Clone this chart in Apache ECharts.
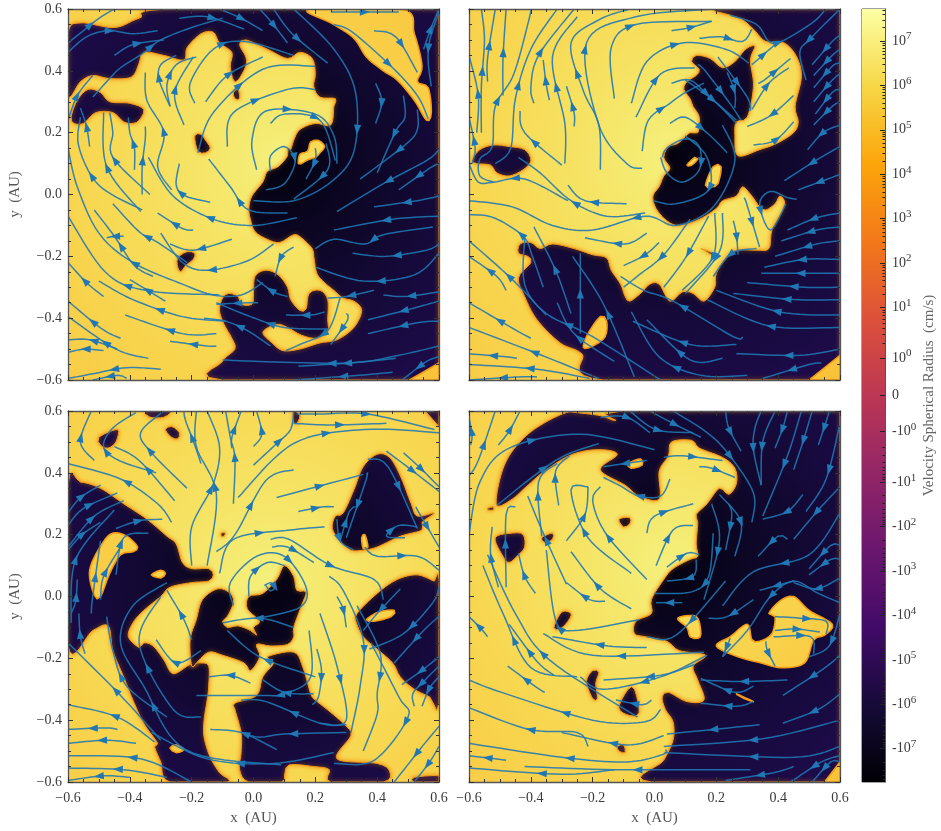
<!DOCTYPE html>
<html><head><meta charset="utf-8">
<style>html,body{margin:0;padding:0;background:#fff}#c{width:941px;height:831px}</style>
<script src="https://cdn.jsdelivr.net/npm/echarts@6/dist/echarts.min.js"></script>
</head><body><div id="c"></div>
<script>
// ---------- DATA (all coordinates in AU) ----------
const panelFrame=[[-.6,-.6],[.6,-.6],[.6,.6],[-.6,.6]];
const tlEye=[.09,.09], trEye=[.06,.12], blEye=[.05,.05], brEye=[.05,.1];

const tlDark=[
[[-.6,.52],[-.56,.555],[-.45,.54],[-.37,.57],[-.26,.6],[.6,.6],[.6,-.6],[-.1,-.6],[-.1,-.54],[-.06,-.5],[-.07,-.465],[-.095,-.42],[-.11,-.375],[-.1,-.335],[-.08,-.32],[-.05,-.33],[-.04,-.355],[-.005,-.355],[0,-.32],[.005,-.265],[.04,-.245],[.08,-.26],[.11,-.3],[.12,-.34],[.15,-.375],[.17,-.37],[.18,-.32],[.215,-.31],[.24,-.34],[.24,-.405],[.24,-.44],[.205,-.465],[.155,-.455],[.11,-.43],[.075,-.42],[.03,-.445],[.06,-.48],[.095,-.505],[.15,-.5],[.215,-.48],[.27,-.47],[.325,-.43],[.35,-.375],[.325,-.345],[.29,-.335],[.26,-.31],[.23,-.285],[.205,-.255],[.195,-.2],[.19,-.175],[.155,-.14],[.13,-.13],[.085,-.155],[.045,-.145],[.005,-.12],[-.01,-.08],[-.015,-.045],[-.005,-.005],[.03,.04],[.045,.075],[.08,.09],[.11,.125],[.11,.15],[.12,.145],[.13,.175],[.15,.21],[.2,.23],[.25,.225],[.26,.285],[.265,.31],[.215,.315],[.195,.35],[.2,.39],[.19,.44],[.15,.46],[.11,.44],[.045,.47],[-.025,.5],[-.045,.485],[-.025,.445],[-.025,.415],[-.05,.37],[-.065,.37],[-.075,.415],[-.07,.46],[-.11,.49],[-.13,.525],[-.17,.52],[-.215,.475],[-.225,.435],[-.29,.45],[-.355,.46],[-.37,.425],[-.395,.38],[-.465,.375],[-.52,.385],[-.56,.365],[-.6,.32]],
[[-.59,.25],[-.57,.305],[-.535,.34],[-.495,.33],[-.465,.3],[-.4,.295],[-.355,.275],[-.37,.24],[-.39,.23],[-.42,.235],[-.455,.265],[-.51,.265],[-.55,.23],[-.58,.23]],
[[-.19,.19],[-.17,.195],[-.155,.175],[-.14,.15],[-.155,.135],[-.18,.14]],
[[-.065,.33],[-.05,.34],[-.045,.31],[-.06,.31]],
[[-.245,-.205],[-.215,-.185],[-.19,-.19],[-.195,-.21],[-.22,-.23],[-.235,-.25],[-.245,-.235]]
];
const tlLight=[
[[.18,.6],[.48,.6],[.52,.52],[.545,.415],[.53,.365],[.565,.345],[.575,.265],[.56,.24],[.52,.305],[.465,.37],[.42,.4],[.365,.445],[.325,.505],[.26,.55]],
[[.505,-.6],[.6,-.545],[.6,-.6]],
[[.145,.1],[.15,.13],[.175,.14],[.185,.17],[.21,.175],[.23,.155],[.215,.135],[.2,.12],[.175,.112],[.155,.1]]
];
const tlFlow=[
[[-.6,.49],[-.55,.53],[-.5,.57],[-.45,.6]],
[[-.6,.46],[-.54,.51],[-.47,.53],[-.39,.52],[-.31,.53]],
[[-.45,.45],[-.39,.485],[-.29,.5]],
[[-.52,.315],[-.47,.37],[-.43,.41],[-.36,.455],[-.3,.5],[-.2,.54],[-.1,.57]],
[[-.24,.57],[-.15,.575],[-.03,.535]],
[[-.11,.6],[-.04,.57],[.03,.53]],
[[.02,.6],[.06,.555],[.11,.49]],
[[.065,.6],[.125,.52],[.24,.425]],
[[.13,.6],[.26,.47],[.33,.33],[.325,.14],[.25,.04],[.13,-.02],[0,-.02]],
[[.25,.59],[.35,.59],[.47,.59]],
[[.26,.55],[.32,.525],[.45,.41],[.53,.32],[.565,.245]],
[[.39,.53],[.46,.51],[.53,.395]],
[[.6,.59],[.57,.5],[.565,.43],[.575,.35]],
[[.55,.47],[.575,.54],[.6,.6]],
[[.395,.36],[.415,.3],[.395,.23]],
[[.485,.32],[.49,.25],[.46,.205],[.4,.07]],
[[.53,.275],[.53,.21],[.49,.16],[.345,.05]],
[[.6,.145],[.56,.11],[.42,.035],[.27,-.055]],
[[.6,.1],[.57,.085],[.47,.015]],
[[.6,-.005],[.53,-.02],[.39,-.04]],
[[.6,-.07],[.45,-.08],[.26,-.115]],
[[.58,-.105],[.42,-.13],[.36,-.16],[.26,-.145],[.2,-.175]],
[[.6,-.16],[.56,-.18],[.43,-.2],[.32,-.19]],
[[.6,-.19],[.52,-.26],[.355,-.28],[.2,-.235]],
[[.6,-.315],[.49,-.33],[.42,-.325]],
[[.6,-.345],[.49,-.375],[.37,-.405]],
[[.6,-.41],[.53,-.415],[.37,-.45]],
[[.6,-.49],[.47,-.52],[.31,-.545],[.02,-.54],[-.1,-.535]],
[[.46,-.53],[.31,-.545],[.145,-.555]],
[[.6,-.525],[.56,-.54],[.48,-.6]],
[[.45,-.575],[.34,-.585],[.13,-.6]],
[[.39,-.31],[.3,-.33],[.24,-.335]],
[[.3,-.385],[.305,-.405],[.25,-.485]],
[[.28,-.335],[.24,-.44],[.15,-.485],[.105,-.505]],
[[.23,-.38],[.185,-.39],[.105,-.39]],
[[.24,-.435],[.1,-.43],[-.01,-.395],[-.12,-.35]],
[[.11,-.33],[.065,-.315],[.01,-.275]],
[[.015,-.35],[-.015,-.35],[-.12,-.355]],
[[.055,-.49],[-.02,-.44],[-.09,-.41],[-.16,-.4]],
[[.13,-.17],[.09,-.2],[.07,-.265]],
[[.065,-.16],[-.02,-.215],[-.15,-.245],[-.23,-.22],[-.3,-.125]],
[[-.07,-.145],[-.195,-.18],[-.27,-.16]],
[[-.215,-.22],[-.31,-.155],[-.37,-.12],[-.455,-.03]],
[[-.195,-.115],[-.23,-.11],[-.31,-.06]],
[[-.14,-.025],[-.22,-.005],[-.25,.03],[-.24,.1]],
[[.14,-.075],[0,-.1],[-.13,-.08],[-.26,-.005],[-.34,.12]],
[[.11,-.06],[-.015,-.05],[-.075,.025],[-.145,.115]],
[[-.285,-.345],[-.4,-.275]],
[[-.485,-.33],[-.54,-.285],[-.6,-.22]],
[[-.325,-.265],[-.385,-.23],[-.45,-.135],[-.515,-.05]],
[[-.42,-.135],[-.45,-.135],[-.475,-.14]],
[[.03,-.285],[-.04,-.325],[-.13,-.325],[-.23,-.29],[-.39,-.22],[-.5,-.125],[-.57,.025],[-.6,.15]],
[[-.11,-.325],[-.35,-.31],[-.48,-.25],[-.6,-.07]],
[[-.12,-.45],[-.23,-.45],[-.415,-.39]],
[[-.12,-.49],[-.15,-.49],[-.27,-.475]],
[[-.09,-.41],[-.23,-.395],[-.39,-.34],[-.5,-.28]],
[[-.43,-.465],[-.49,-.435],[-.6,-.345]],
[[-.34,-.53],[-.445,-.5],[-.6,-.395]],
[[-.485,-.505],[-.545,-.5],[-.6,-.51]],
[[-.3,-.565],[-.41,-.56],[-.52,-.58],[-.6,-.595]],
[[-.41,-.595],[-.44,-.585],[-.52,-.6]],
[[-.44,-.5],[-.53,-.47],[-.6,-.47]],
[[-.53,.155],[-.54,.22],[-.56,.28]],
[[-.6,.24],[-.57,.32],[-.52,.385]],
[[-.365,-.055],[-.475,.09],[-.485,.265]],
[[-.335,0],[-.455,.12],[-.455,.2],[-.465,.265]],
[[-.385,.08],[-.385,.15],[-.4,.2],[-.405,.25]],
[[-.36,0],[-.36,.09],[-.35,.18],[-.35,.22]],
[[-.265,.015],[-.31,.09],[-.29,.2],[-.345,.305],[-.35,.395]],
[[-.36,-.05],[-.5,.03],[-.565,.155],[-.56,.25]],
[[-.27,.285],[-.305,.37],[-.3,.42],[-.25,.45]],
[[-.225,.225],[-.255,.33],[-.195,.445]],
[[-.27,.285],[-.28,.355],[-.25,.42],[-.185,.445]],
[[-.19,.295],[-.205,.36],[-.13,.47],[-.03,.495],[.13,.45]],
[[-.155,.3],[-.085,.385],[.03,.445]],
[[-.18,.135],[-.13,.265],[.03,.405],[.2,.415]],
[[-.085,.155],[-.065,.265],[.11,.34],[.2,.34]],
[[.01,.08],[-.005,.175],[.04,.27],[.2,.26],[.26,.19],[.27,.1]],
[[.055,.23],[.1,.26],[.215,.24],[.265,.11]],
[[.055,.075],[.055,.125],[.1,.155],[.135,.11],[.1,.035],[.04,.015]],
[[.2,.15],[.2,.11],[.17,.05]],
[[.235,.165],[.24,.08],[.13,-.015]]
];

const trDark=[
[[.21,.6],[.6,.6],[.6,-.6],[-.165,-.6],[-.235,-.515],[-.305,-.48],[-.38,-.405],[-.42,-.33],[-.44,-.27],[-.4,-.22],[-.41,-.2],[-.44,-.19],[-.435,-.16],[-.4,-.155],[-.37,-.175],[-.33,-.16],[-.26,-.175],[-.2,-.195],[-.155,-.205],[-.14,-.245],[-.11,-.29],[-.095,-.33],[-.08,-.345],[-.045,-.32],[-.015,-.29],[.015,-.29],[.05,-.345],[.09,-.315],[.125,-.32],[.16,-.345],[.195,-.3],[.2,-.255],[.235,-.2],[.265,-.18],[.33,-.18],[.37,-.175],[.38,-.115],[.415,-.05],[.42,-.02],[.405,-.005],[.39,-.03],[.36,-.05],[.34,-.04],[.315,-.005],[.285,.025],[.265,-.005],[.22,-.02],[.2,-.045],[.145,-.08],[.08,-.1],[.04,-.085],[.005,-.045],[-.005,-.005],[.015,.025],[.03,.06],[.05,.085],[.03,.12],[.045,.155],[.075,.165],[.115,.2],[.14,.2],[.145,.25],[.125,.285],[.115,.31],[.095,.34],[.105,.365],[.135,.385],[.145,.405],[.12,.43],[.135,.45],[.18,.44],[.22,.41],[.26,.43],[.295,.47],[.325,.48],[.31,.435],[.32,.35],[.3,.25],[.265,.235],[.26,.19],[.27,.125],[.34,.145],[.395,.165],[.45,.2],[.465,.235],[.455,.285],[.475,.38],[.46,.445],[.42,.49],[.36,.495],[.32,.535],[.285,.565],[.245,.58]],
[[-.59,.11],[-.565,.145],[-.52,.16],[-.47,.155],[-.42,.145],[-.4,.11],[-.425,.08],[-.47,.06],[-.51,.07],[-.53,.095],[-.575,.1]],
[[.15,-.175],[.19,-.19],[.185,-.195],[.16,-.18]]
];
const trLight=[
[[-.23,-.495],[-.215,-.45],[-.175,-.395],[-.155,-.41],[-.16,-.46],[-.2,-.49]],
[[.165,.03],[.19,.09],[.215,.09],[.205,.035],[.185,.025]],
[[.105,.095],[.13,.12],[.14,.115],[.12,.095]],
[[.5,-.6],[.6,-.52],[.6,-.6]]
];
const trFlow=[
[[-.56,.2],[-.56,.35],[-.55,.5],[-.56,.6]],
[[-.49,.32],[-.49,.44],[-.48,.6]],
[[-.54,.365],[-.54,.44],[-.515,.6]],
[[-.575,.2],[-.57,.32],[-.6,.45]],
[[-.59,.1],[-.58,.15],[-.6,.25]],
[[-.52,.04],[-.565,.06],[-.565,.115],[-.525,.155],[-.515,.285],[-.455,.39],[-.405,.57],[-.4,.6]],
[[-.515,.1],[-.465,.15],[-.45,.31],[-.4,.47],[-.315,.6]],
[[-.28,-.02],[-.42,.05],[-.52,.04],[-.57,.04],[-.6,.1]],
[[-.34,.305],[-.35,.355],[-.36,.435]],
[[-.39,.295],[-.4,.345],[-.375,.45],[-.26,.6]],
[[-.29,.1],[-.29,.23],[-.33,.445],[-.25,.575]],
[[-.26,.22],[-.26,.265],[-.285,.35]],
[[-.175,.08],[-.18,.225],[-.23,.335],[-.27,.49],[-.18,.565],[-.08,.6]],
[[-.3,.095],[-.42,.2],[-.435,.27]],
[[-.04,.085],[-.09,.1],[-.18,.225],[-.22,.49],[-.06,.575],[.19,.6]],
[[-.13,.31],[-.14,.475],[-.06,.55],[.185,.56]],
[[-.075,.295],[-.025,.43],[.09,.49],[.23,.47],[.305,.425]],
[[.055,.53],[.115,.54],[.185,.56]],
[[.145,.505],[.215,.51],[.285,.495],[.315,.535]],
[[-.04,.14],[-.02,.24],[.05,.295],[.1,.33],[.16,.36]],
[[-.06,.25],[.02,.39],[.13,.41]],
[[.055,.36],[.115,.37],[.18,.315],[.265,.24]],
[[.05,.23],[.1,.25],[.175,.195],[.235,.135]],
[[.025,.12],[.04,.15],[.1,.18],[.145,.155],[.145,.08],[.09,.04],[.04,.07],[.02,.12]],
[[.1,.19],[.17,.12],[.175,.015],[.07,-.03],[-.005,-.02]],
[[.22,.225],[.26,.11],[.19,-.04],[.07,-.1],[-.03,-.07],[-.2,-.115],[-.33,-.1],[-.46,-.04],[-.6,-.02]],
[[-.09,-.03],[-.225,-.02],[-.28,.03]],
[[-.03,-.06],[-.155,-.07],[-.27,-.02],[-.37,.07],[-.44,.12]],
[[-.025,-.125],[-.095,-.16],[-.225,-.14]],
[[.015,-.155],[-.03,-.195],[-.1,-.23]],
[[.115,-.08],[.03,-.195],[-.05,-.26],[-.1,-.3]],
[[.175,-.07],[.1,-.205],[.03,-.3]],
[[.195,-.06],[.19,-.2],[.09,-.31]],
[[.22,-.06],[.21,-.185],[.1,-.32]],
[[.255,-.085],[.265,-.13],[.27,-.195]],
[[.29,-.01],[.295,-.02],[.34,-.17]],
[[.33,-.175],[.25,-.19],[.19,-.265]],
[[.46,-.015],[.43,-.01],[.375,.01],[.34,-.03],[.375,-.115],[.425,-.03]],
[[.6,-.06],[.525,-.075],[.43,-.115]],
[[.6,-.105],[.525,-.115],[.41,-.15]],
[[.6,-.15],[.525,-.16],[.39,-.2]],
[[.6,-.21],[.485,-.21],[.355,-.235]],
[[.6,-.255],[.485,-.255],[.345,-.255]],
[[.6,-.3],[.485,-.3],[.3,-.285]],
[[.6,-.34],[.45,-.34],[.255,-.32]],
[[.6,-.39],[.405,-.38],[.2,-.31]],
[[.6,-.43],[.37,-.425],[.17,-.34]],
[[.6,-.5],[.47,-.52],[.265,-.515]],
[[.54,-.545],[.5,-.55],[.35,-.595]],
[[.6,.155],[.53,.115],[.42,.045]],
[[.6,.065],[.56,.05],[.465,.015]],
[[.6,.225],[.545,.2],[.495,.145]],
[[.6,.3],[.575,.285],[.515,.225]],
[[.6,.34],[.575,.33],[.52,.26]],
[[.6,.39],[.575,.37],[.515,.3]],
[[.6,.425],[.575,.415],[.515,.345]],
[[.6,.47],[.575,.45],[.515,.385]],
[[.6,.515],[.575,.495],[.51,.42]],
[[.6,.6],[.505,.505],[.47,.46],[.49,.37]],
[[.245,.58],[.33,.55],[.37,.495],[.41,.495],[.51,.555],[.555,.6]],
[[.335,.36],[.355,.37],[.44,.44]],
[[.315,.275],[.37,.36],[.435,.41]],
[[.45,.32],[.375,.255],[.3,.22]],
[[.315,.42],[.39,.485]],
[[.32,.16],[.39,.175],[.45,.235]],
[[.235,.395],[.26,.33],[.26,.28]],
[[.205,.445],[.3,.315],[.31,.27]],
[[.14,.42],[.16,.405],[.24,.3],[.28,.24]],
[[.1,.37],[.19,.305],[.265,.23]],
[[-.27,-.385],[-.32,-.245],[-.39,-.105]],
[[-.24,-.45],[-.24,-.265],[-.24,-.19]],
[[-.065,-.59],[-.165,-.355],[-.265,-.2]],
[[-.13,-.54],[-.26,-.45],[-.315,-.35]],
[[.02,-.6],[-.2,-.46],[-.35,-.385],[-.42,-.29],[-.42,-.14]],
[[-.36,-.3],[-.395,-.2],[-.425,-.135],[-.52,-.075],[-.6,-.065]],
[[-.48,-.31],[-.51,-.265],[-.6,-.2]],
[[-.35,-.39],[-.465,-.27],[-.6,-.15]],
[[-.4,-.465],[-.455,-.435],[-.6,-.35]],
[[-.18,-.595],[-.365,-.52],[-.6,-.43]],
[[-.445,-.53],[-.48,-.525],[-.6,-.515]],
[[-.21,-.595],[-.38,-.565],[-.6,-.55]],
[[-.38,-.59],[-.44,-.59],[-.6,-.6]],
[[.22,-.53],[.115,-.535],[-.025,-.405]],
[[.265,-.485],[.115,-.485],[-.07,-.41]],
[[.285,-.46],[.255,-.46],[.06,-.345],[-.035,-.31],[-.11,-.265]],
[[.3,-.585],[.15,-.585],[.015,-.525],[-.075,-.38]]
];

const blDark=[
[[-.6,.36],[-.56,.37],[-.495,.35],[-.42,.3],[-.345,.25],[-.28,.195],[-.25,.17],[-.23,.11],[-.2,.09],[-.145,.09],[-.13,.07],[-.145,.05],[-.2,.045],[-.27,.03],[-.3,0],[-.355,-.045],[-.39,-.085],[-.405,-.13],[-.37,-.165],[-.355,-.15],[-.325,-.16],[-.29,-.205],[-.26,-.25],[-.205,-.22],[-.17,-.215],[-.145,-.225],[-.145,-.29],[-.15,-.335],[-.16,-.4],[-.16,-.455],[-.14,-.52],[-.11,-.57],[-.085,-.6],[-.27,-.6],[-.3,-.535],[-.32,-.485],[-.31,-.475],[-.355,-.41],[-.39,-.335],[-.42,-.26],[-.455,-.175],[-.47,-.095],[-.52,-.11],[-.6,-.16]],
[[-.165,-.01],[-.115,.025],[-.075,.01],[-.065,-.02],[-.085,-.065],[-.1,-.08],[-.085,-.1],[-.05,-.095],[-.01,-.11],[.01,-.125],[0,-.1],[.02,-.08],[-.02,-.04],[-.015,0],[.03,.01],[.075,.055],[.1,.1],[.13,.065],[.14,.02],[.17,.015],[.155,-.03],[.13,-.1],[.13,-.13],[.11,-.155],[.055,-.16],[.01,-.155],[.02,-.195],[-.01,-.24],[-.03,-.215],[-.1,-.19],[-.145,-.18],[-.185,-.215],[-.2,-.225],[-.205,-.14],[-.185,-.075]],
[[.045,-.195],[.13,-.18],[.16,-.23],[.185,-.315],[.2,-.335],[.25,-.375],[.3,-.42],[.315,-.45],[.27,-.525],[.4,-.54],[.44,-.565],[.42,-.6],[.25,-.6],[.245,-.56],[.195,-.55],[.115,-.545],[.1,-.58],[.09,-.6],[-.015,-.6],[-.045,-.56],[-.04,-.505],[-.04,-.44],[-.06,-.365],[-.06,-.345],[.01,-.32],[.03,-.26],[.065,-.215]],
[[.4,.46],[.44,.45],[.475,.39],[.51,.3],[.53,.26],[.585,.27],[.545,.24],[.545,.215],[.475,.195],[.4,.16],[.355,.15],[.315,.15],[.28,.18],[.255,.22],[.265,.26],[.29,.27],[.325,.345],[.355,.42]],
[[.335,-.055],[.4,.01],[.465,.055],[.53,.07],[.585,.05],[.6,.055],[.6,-.345],[.57,-.325],[.52,-.3],[.475,-.26],[.45,-.215],[.4,-.17],[.355,-.13],[.333,-.085]],
[[-.5,.515],[-.44,.54],[-.445,.5],[-.47,.48],[-.495,.49]],
[[-.285,.54],[-.265,.55],[-.24,.53],[-.245,.51],[-.265,.515]],
[[-.35,.6],[-.27,.6],[-.29,.58],[-.335,.58]],
[[.13,.6],[.15,.585],[.14,.56],[.13,.56]],
[[.555,.6],[.6,.6],[.6,.55]],
[[-.105,.205],[-.09,.205],[-.095,.195],[-.105,.195]],
[[.52,-.585],[.6,-.58],[.6,-.6],[.52,-.6]]
];
const blLight=[
[[-.53,.085],[-.49,.17],[-.455,.205],[-.41,.195],[-.375,.16],[-.39,.145],[-.43,.135],[-.465,.075],[-.495,0],[-.515,.005]],
[[-.33,.07],[-.3,.085],[-.285,.075],[-.3,.06]],
[[-.27,-.49],[-.25,-.48],[-.225,-.495],[-.25,-.505]],
[[.35,.19],[.36,.2],[.37,.16],[.355,.155]],
[[.365,-.075],[.405,-.05],[.455,-.045],[.445,-.065],[.39,-.08]]
];
const blFlow=[
[[-.515,.44],[-.56,.5],[-.525,.6]],
[[-.315,.4],[-.435,.44],[-.485,.485],[-.455,.545],[-.38,.595]],
[[-.215,.35],[-.33,.465],[-.365,.53],[-.29,.6]],
[[-.17,.43],[-.19,.49],[-.22,.57],[-.225,.6]],
[[-.265,.24],[-.31,.3],[-.43,.38],[-.6,.43]],
[[-.255,.31],[-.37,.44],[-.45,.485]],
[[-.15,.1],[-.12,.33],[-.185,.485],[-.185,.6]],
[[-.2,.1],[-.2,.225],[-.13,.365],[-.11,.485],[-.15,.6]],
[[-.065,.3],[-.06,.445],[-.075,.515],[-.09,.6]],
[[-.07,.48],[-.07,.515],[-.04,.6]],
[[0,.485],[.027,.525],[.01,.6]],
[[0,.425],[.075,.495],[.12,.54],[.13,.6]],
[[-.12,.145],[-.06,.2],[.04,.375],[.13,.41]],
[[-.05,.32],[.13,.495],[.36,.54],[.6,.53]],
[[.075,.32],[.355,.395]],
[[.145,.275],[.225,.29],[.26,.29]],
[[-.11,.075],[-.065,.185],[.12,.215],[.23,.225]],
[[.13,.56],[.25,.555],[.43,.56]],
[[.14,.59],[.22,.59],[.37,.59],[.585,.54]],
[[.37,.445],[.435,.42],[.53,.22]],
[[.485,.465],[.54,.415],[.6,.355]],
[[.43,.47],[.51,.41],[.6,.34]],
[[.365,.395],[.365,.38],[.3,.19]],
[[.28,.18],[.31,.275],[.33,.29]],
[[.27,.25],[.28,.18],[.325,.15]],
[[.525,.29],[.53,.28],[.6,.16]],
[[.49,.19],[.43,.195],[.47,.23],[.53,.225]],
[[.36,.16],[.4,.13],[.53,.13],[.6,.085]],
[[.06,.16],[.11,.16],[.195,.11]],
[[.055,.185],[.115,.185],[.25,.1],[.39,.055],[.42,-.01]],
[[-.015,0],[-.01,.065],[.045,.11],[.1,.1]],
[[-.065,-.03],[-.075,.045],[.01,.13],[.1,.13],[.17,.03],[.15,-.035],[.02,-.07]],
[[.035,.035],[.055,.045],[.07,.03],[.055,.018],[.04,.035]],
[[.205,-.17],[.22,-.24],[.21,-.325],[.19,-.35]],
[[.18,-.11],[.185,-.26],[.1,-.315],[.02,-.32],[-.185,-.32]],
[[.245,.065],[.29,.02],[.355,-.14],[.345,-.29],[.315,-.44]],
[[.27,0],[.29,-.04],[.3,-.1]],
[[.215,-.055],[.27,-.225],[.3,-.4],[.215,-.41]],
[[.335,-.03],[.41,-.185],[.4,-.315],[.4,-.38],[.355,-.5]],
[[.38,-.15],[.47,-.325],[.5,-.39],[.39,-.53],[.26,-.54]],
[[.6,.03],[.58,-.02],[.485,-.12],[.375,-.17]],
[[.6,-.065],[.55,-.11],[.455,-.215]],
[[.6,-.195],[.55,-.235],[.48,-.285]],
[[.6,-.225],[.55,-.275],[.515,-.315],[.52,-.355]],
[[.6,-.26],[.57,-.295],[.545,-.355]],
[[.475,.025],[.4,-.055],[.355,-.11]],
[[.6,-.42],[.55,-.48],[.455,-.6]],
[[.6,-.485],[.57,-.535],[.52,-.6]],
[[-.6,.27],[-.56,.32],[-.495,.36]],
[[-.6,.23],[-.55,.285],[-.44,.335]],
[[-.6,.16],[-.515,.26],[-.42,.31]],
[[-.6,.15],[-.555,.2],[-.495,.24]],
[[-.445,.22],[-.37,.245],[-.295,.25]],
[[-.445,.07],[-.42,.19],[-.34,.205]],
[[-.59,-.085],[-.575,.12],[-.45,.28]],
[[-.495,-.01],[-.485,.065],[-.43,.16]],
[[-.525,-.055],[-.52,0],[-.495,.18]],
[[-.59,-.055],[-.575,-.015],[-.57,.055]],
[[-.545,-.185],[-.56,-.13],[-.565,-.055]],
[[-.28,-.39],[-.41,-.29],[-.455,-.175],[-.475,-.065]],
[[.09,-.545],[-.22,-.495],[-.355,-.29],[-.43,-.15],[-.39,-.03],[-.28,.045]],
[[-.17,-.39],[-.26,-.365],[-.37,-.15],[-.3,0]],
[[-.3,-.465],[-.43,-.32],[-.6,-.15]],
[[.26,-.505],[.065,-.54],[-.15,-.525],[-.33,-.44]],
[[-.32,-.47],[-.44,-.39],[-.6,-.35]],
[[-.44,-.43],[-.48,-.425],[-.6,-.43]],
[[-.38,-.475],[-.475,-.465],[-.6,-.475]],
[[-.2,-.6],[-.365,-.525],[-.6,-.515]],
[[-.28,-.585],[-.42,-.56],[-.6,-.555]],
[[-.4,-.585],[-.485,-.58],[-.6,-.595]],
[[.075,-.495],[-.04,-.44],[-.14,-.43]],
[[.3,-.44],[.1,-.445],[.02,-.455],[-.04,-.44]],
[[.3,-.415],[.215,-.41],[.04,-.34],[-.04,-.335]],
[[.195,-.315],[.1,-.31],[.03,-.27]],
[[.2,-.26],[.02,-.195],[-.085,-.11]],
[[.13,-.1],[.02,-.07],[-.1,-.085]],
[[-.01,-.28],[-.075,-.255],[-.145,-.26]],
[[-.2,-.14],[-.225,-.075],[-.28,.02]],
[[-.17,-.175],[-.25,-.215],[-.315,-.14]]
];

const brDark=[
[[-.105,.6],[.6,.6],[.6,-.6],[-.01,-.6],[.03,-.53],[.06,-.465],[.06,-.405],[.035,-.365],[.025,-.325],[.045,-.31],[.105,-.34],[.16,-.335],[.14,-.27],[.125,-.225],[.165,-.19],[.08,-.175],[.04,-.145],[-.03,-.13],[-.065,-.12],[-.06,-.08],[-.01,-.055],[-.01,-.01],[.03,.055],[.06,.09],[.115,.12],[.14,.13],[.135,.17],[.14,.24],[.135,.265],[.17,.3],[.21,.35],[.24,.33],[.265,.365],[.26,.415],[.22,.45],[.145,.48],[.12,.505],[.055,.5],[.045,.455],[.015,.405],[.015,.315],[-.05,.325],[-.095,.36],[-.175,.41],[-.12,.46],[-.18,.475],[-.265,.46],[-.35,.41],[-.415,.355],[-.46,.315],[-.51,.295],[-.5,.38],[-.47,.455],[-.415,.52],[-.35,.565],[-.285,.595],[-.255,.595],[-.175,.585],[-.125,.57]],
[[-.515,.19],[-.46,.205],[-.425,.2],[-.42,.16],[-.44,.135],[-.47,.11],[-.49,.13]],
[[-.365,.19],[-.33,.205],[-.33,.185],[-.355,.175]],
[[-.115,.25],[-.08,.255],[-.08,.235],[-.1,.225]],
[[-.54,.285],[-.52,.29],[-.52,.28],[-.54,.28]],
[[-.325,-.1],[-.3,-.05],[-.27,-.055],[-.28,-.08],[-.305,-.105]],
[[-.22,-.275],[-.2,-.24],[-.18,-.245],[-.19,-.28],[-.185,-.33],[-.2,-.33]],
[[-.115,-.36],[-.085,-.3],[-.065,-.3],[-.05,-.375],[-.08,-.385]],
[[-.12,-.485],[-.1,-.48],[-.095,-.505],[-.115,-.5]]
];
const brLight=[
[[.37,-.055],[.405,-.015],[.45,0],[.5,-.045],[.575,-.09],[.55,-.125],[.515,-.14],[.485,-.215],[.41,-.23],[.345,-.215],[.27,-.195],[.2,-.16],[.245,-.13],[.3,-.09],[.315,-.14],[.34,-.145],[.38,-.12],[.39,-.065]],
[[.075,-.07],[.135,-.065],[.15,-.12],[.14,-.135],[.115,-.13],[.105,-.1]],
[[.265,-.315],[.32,-.34],[.29,-.33]],
[[-.085,.43],[-.045,.445],[-.04,.425],[-.075,.415]],
[[.55,-.6],[.6,-.535],[.6,-.6]]
];
const brFlow=[
[[-.595,.49],[-.59,.52],[-.6,.58]],
[[-.6,.39],[-.57,.44],[-.515,.6]],
[[-.505,.49],[-.47,.535],[-.435,.6]],
[[-.6,.2],[-.565,.37],[-.47,.48],[-.24,.525],[0,.475]],
[[-.51,.295],[-.32,.44],[-.18,.495]],
[[-.175,.58],[-.09,.58],[-.015,.53]],
[[-.08,.6],[.005,.54],[.125,.53]],
[[.06,.6],[.17,.53],[.24,.46],[.32,.335],[.315,.24]],
[[-.015,.6],[.06,.56],[.15,.515]],
[[.23,.6],[.24,.545],[.28,.47]],
[[.345,.6],[.325,.545],[.32,.475],[.345,.36]],
[[.39,.6],[.35,.5],[.345,.36]],
[[.43,.6],[.415,.545],[.39,.48]],
[[.475,.6],[.43,.455],[.35,.26]],
[[.51,.6],[.48,.5],[.45,.41]],
[[.565,.6],[.555,.565],[.53,.49]],
[[.6,.56],[.555,.38],[.49,.275]],
[[.6,.355],[.53,.28],[.45,.185]],
[[.48,.33],[.43,.275],[.35,.25]],
[[.43,.185],[.4,.195],[.335,.13]],
[[.6,.27],[.5,.135],[.32,.08],[.22,-.03]],
[[.6,.165],[.57,.165],[.5,.09]],
[[.6,.12],[.57,.12],[.5,.07]],
[[.6,.06],[.525,.025],[.45,.045]],
[[.45,.05],[.34,.02]],
[[.24,.3],[.25,.26],[.23,.15]],
[[.21,.33],[.28,.24],[.26,.13]],
[[.185,.3],[.21,.18],[.16,-.01]],
[[.6,-.02],[.53,.01],[.45,.05],[.375,0],[.3,-.11],[.22,-.195]],
[[.39,-.065],[.47,-.07],[.555,-.08],[.555,-.12]],
[[.39,-.11],[.455,-.105],[.535,-.115]],
[[.385,-.13],[.4,-.13],[.505,-.13],[.515,-.185]],
[[.36,-.145],[.365,-.175],[.39,-.225]],
[[.245,-.135],[.22,-.195]],
[[.6,-.055],[.565,-.16],[.5,-.195]],
[[.6,-.19],[.545,-.235],[.415,-.32]],
[[.6,-.315],[.53,-.365],[.415,-.41]],
[[.6,-.4],[.35,-.46],[.03,-.485]],
[[.34,-.415],[.19,-.43],[.04,-.445]],
[[.6,-.485],[.45,-.52],[.035,-.505]],
[[.6,-.515],[.54,-.535],[.44,-.6]],
[[.6,-.535],[.57,-.535],[.51,-.6]],
[[.31,-.56],[-.13,-.56],[-.42,-.55]],
[[.45,-.55],[.385,-.57],[.23,-.595]],
[[.43,-.27],[.28,-.275],[.15,-.27]],
[[.32,-.29],[.26,-.31],[.15,-.265]],
[[.32,-.34],[.265,-.355],[.15,-.345]],
[[.13,-.22],[.02,-.255],[-.165,-.27]],
[[.17,-.19],[.02,-.26],[-.165,-.3],[-.24,-.26]],
[[-.215,-.485],[-.25,-.44],[-.405,-.43],[-.6,-.36]],
[[.02,-.365],[-.03,-.405],[-.2,-.4],[-.495,-.31],[-.6,-.27]],
[[-.01,-.335],[-.04,-.35],[-.125,-.335]],
[[.03,-.45],[-.09,-.48],[-.3,-.44]],
[[.035,-.495],[.03,-.51],[-.09,-.535],[-.3,-.52],[-.6,-.475]],
[[-.48,-.53],[-.515,-.525],[-.6,-.515]],
[[-.13,-.56],[-.3,-.575],[-.6,-.555]],
[[-.355,-.31],[-.38,-.295],[-.475,-.225]],
[[-.325,-.255],[-.38,-.21],[-.47,-.09]],
[[-.25,-.26],[-.4,-.23],[-.49,-.055],[-.555,.1]],
[[-.055,-.39],[-.34,-.205],[-.45,-.055],[-.54,.135]],
[[-.54,-.13],[-.56,-.105],[-.6,-.065]],
[[-.385,.01],[-.42,.065],[-.44,.14]],
[[-.025,-.165],[-.15,-.16],[-.33,-.13]],
[[-.05,-.075],[-.26,-.11],[-.32,-.075],[-.35,.15]],
[[.16,-.18],[-.2,-.19],[-.36,-.12]],
[[-.075,-.04],[-.175,.025],[-.27,.145]],
[[-.16,-.015],[-.21,-.01],[-.285,.045]],
[[-.075,.075],[-.215,.19],[-.27,.345],[-.215,.355]],
[[-.025,.055],[-.155,.2],[-.2,.31],[-.175,.355]],
[[-.285,.18],[-.225,.265],[-.215,.355]],
[[-.31,.295],[-.32,.405],[-.275,.455]],
[[-.365,.195],[-.375,.37],[-.315,.43]],
[[-.285,.04],[-.36,.205],[-.41,.325]],
[[-.505,.03],[-.53,.135],[-.525,.225]],
[[-.48,.03],[-.48,.265],[-.45,.29]],
[[-.025,.205],[0,.26],[.125,.3]],
[[.005,.1],[.06,.215],[.125,.23]],
[[.04,.095],[.105,.14],[.145,.135]],
[[.135,.12],[.125,.065],[.04,.05]],
[[.19,.205],[.175,.065],[.12,.015],[0,.01]],
[[.32,-.01],[.235,-.065],[.175,-.07]],
[[.09,-.02],[.005,-.02]],
[[.23,.05],[.07,-.125],[-.025,-.13]],
[[-.025,.44],[-.165,.42]],
[[.05,.38],[.02,.325],[-.05,.325],[-.115,.36],[-.165,.385]],
[[.03,.45],[.09,.455],[.22,.44]],
[[.145,.42],[.185,.415],[.26,.385]]
];

// colour bar
const infernoStops=['#000004','#160b39','#420a68','#6a176e','#932667','#bc3754','#dd513a','#f37819','#fca50a','#f6d746','#fcffa4'];
const cbarDecades=[7,6,5,4,3,2,1,0];
const cbarRange=[-8.72,8.69];

// ---------- RENDER ----------
const SERIF='"Liberation Serif",serif';
const TXT='#3a3a3a', FRAME='#555', LINE='#1f77b4';
const layout=[{left:68,top:9},{left:469,top:9},{left:68,top:411},{left:469,top:411}];
const SIZE=371;
const panels=[
 {dark:tlDark,light:tlLight,flow:tlFlow,eye:tlEye},
 {dark:trDark,light:trLight,flow:trFlow,eye:trEye},
 {dark:blDark,light:blLight,flow:blFlow,eye:blEye},
 {dark:brDark,light:brLight,flow:brFlow,eye:brEye}
];
const G=echarts.graphic;
function radial(c,r,stops){return new G.RadialGradient(c[0],c[1],r,stops.map(s=>({offset:s[0],color:s[1]})),true);}
const YEL=[[0,'#f4f07c'],[.3,'#f6e262'],[.6,'#f8d64f'],[1,'#f9c843']];
const DRK=[[0,'#040210'],[.25,'#0e0728'],[.5,'#170a3e'],[1,'#260d58']];
const LGT=[[0,'#f7e05e'],[.5,'#f9cf47'],[1,'#fabf35']];

function spline(pts,closed,isEdge){
 const n=pts.length,out=[];const m=closed?n:n-1;
 const g=i=>closed?pts[(i+n)%n]:pts[Math.max(0,Math.min(n-1,i))];
 for(let i=0;i<m;i++){
  const p0=g(i-1),p1=g(i),p2=g(i+1),p3=g(i+2);
  if(isEdge&&isEdge[i]&&isEdge[(i+1)%n]){out.push(p1);continue;}
  const d=Math.hypot(p2[0]-p1[0],p2[1]-p1[1]);
  const k=Math.max(1,Math.min(10,Math.ceil(d/4)));
  for(let j=0;j<k;j++){
   const t=j/k,t2=t*t,t3=t2*t;
   out.push([0,1].map(a=>.5*(2*p1[a]+(p2[a]-p0[a])*t+(2*p0[a]-5*p1[a]+4*p2[a]-p3[a])*t2+(3*p1[a]-p0[a]-3*p2[a]+p3[a])*t3)));
  }
 }
 if(!closed)out.push(pts[n-1]);
 return out;
}
function regionRender(list){
 return function(params,api){
  const it=list[params.dataIndex];
  const pts=it.poly.map(p=>api.coord(p));
  const edge=it.poly.map(p=>Math.abs(p[0])>=.6||Math.abs(p[1])>=.6);
  const eye=api.coord(it.eye);
  if(it.kind==='base')return{type:'polygon',silent:true,shape:{points:pts},style:{fill:radial(eye,340,YEL)}};
  const sm=spline(pts,true,edge);
  if(it.kind==='dark')return{type:'polygon',silent:true,shape:{points:sm},style:{fill:radial(eye,360,DRK),stroke:'#f39a1a',lineWidth:1,shadowBlur:4,shadowColor:'#f28a0c',lineJoin:'round'}};
  return{type:'polygon',silent:true,shape:{points:sm},style:{fill:radial(eye,300,LGT),stroke:'#f59a14',lineWidth:1.6,lineJoin:'round'}};
 };
}
function flowRender(flow){
 return function(params,api){
  const pts=spline(flow[params.dataIndex].map(p=>api.coord(p)),false);
  let total=0;const seg=[];
  for(let i=1;i<pts.length;i++){const d=Math.hypot(pts[i][0]-pts[i-1][0],pts[i][1]-pts[i-1][1]);seg.push(d);total+=d;}
  let run=0,ax=pts[0][0],ay=pts[0][1],ux=1,uy=0;
  for(let i=0;i<seg.length;i++){
   if(run+seg[i]>=total/2&&seg[i]>0){const f=(total/2-run)/seg[i];
    ax=pts[i][0]+f*(pts[i+1][0]-pts[i][0]);ay=pts[i][1]+f*(pts[i+1][1]-pts[i][1]);
    ux=(pts[i+1][0]-pts[i][0])/seg[i];uy=(pts[i+1][1]-pts[i][1])/seg[i];break;}
   run+=seg[i];
  }
  const L=5,W=3.6;
  return{type:'group',silent:true,children:[
   {type:'polyline',shape:{points:pts},style:{stroke:LINE,lineWidth:1.5,fill:null,opacity:.88,lineJoin:'round'}},
   {type:'polygon',shape:{points:[[ax+ux*L,ay+uy*L],[ax-ux*L-uy*W,ay-uy*L+ux*W],[ax-ux*L+uy*W,ay-uy*L-ux*W]]},style:{fill:LINE}}
  ]};
 };
}
const fmt=v=>{const s=(+v).toFixed(1);return v<0?'\u2212'+s.slice(1):s;};
const xAxes=[],yAxes=[],grids=[],series=[];
function symPos(v){const a=Math.abs(v);let t;if(a<1)t=.83*a;else if(a<10)t=.83+1.13*Math.log10(a);else t=Math.log10(a)+.97;return v<0?-t:t;}
panels.forEach((p,i)=>{
 grids.push({left:layout[i].left,top:layout[i].top,width:SIZE,height:SIZE});
 const bottomRow=i>=2,leftCol=i%2===0;
 const base={type:'value',min:-.6,max:.6,interval:.2,gridIndex:i,z:10,splitLine:{show:false},
  axisLine:{show:true,onZero:false,lineStyle:{color:FRAME,width:1.3}},
  axisTick:{show:true,inside:true,length:5,lineStyle:{color:'#333',width:1}},
  minorTick:{show:true,splitNumber:4,length:3,lineStyle:{color:'#333',width:1}},
  minorSplitLine:{show:false}};
 const lbl={fontFamily:SERIF,fontSize:14,color:TXT,formatter:fmt,showMinLabel:true,showMaxLabel:true,hideOverlap:false};
 const nm={nameLocation:'middle',nameTextStyle:{fontFamily:SERIF,fontSize:15,color:'#555'}};
 xAxes.push(Object.assign({},base,{position:'bottom',axisLabel:Object.assign({show:bottomRow,margin:9},lbl)},bottomRow?Object.assign({name:'x  (AU)',nameGap:29},nm):{}));
 xAxes.push(Object.assign({},base,{position:'top',axisLabel:{show:false}}));
 yAxes.push(Object.assign({},base,{position:'left',axisLabel:Object.assign({show:leftCol,margin:6},lbl)},leftCol?Object.assign({name:'y  (AU)',nameGap:45},nm):{}));
 yAxes.push(Object.assign({},base,{position:'right',axisLabel:{show:false}}));
 const regions=[{kind:'base',poly:panelFrame,eye:p.eye}]
  .concat(p.dark.map(d=>({kind:'dark',poly:d,eye:p.eye})))
  .concat(p.light.map(d=>({kind:'light',poly:d,eye:p.eye})));
 series.push({type:'custom',name:'regions'+i,coordinateSystem:'cartesian2d',xAxisIndex:i*2,yAxisIndex:i*2,clip:true,silent:true,z:2,
  renderItem:regionRender(regions),data:regions.map(r=>r.poly[0])});
 series.push({type:'custom',name:'streamlines'+i,coordinateSystem:'cartesian2d',xAxisIndex:i*2,yAxisIndex:i*2,clip:true,silent:true,z:3,
  renderItem:flowRender(p.flow),data:p.flow.map(f=>f[0])});
});
// colour bar
const cg=grids.length;
grids.push({left:862,top:9,width:23,height:773,show:true,borderColor:'#444',borderWidth:1,backgroundColor:'transparent'});
const cx=xAxes.length;
xAxes.push({type:'value',gridIndex:cg,min:0,max:1,show:false});
const majorVals=[],minorVals=[],labelMap={};
cbarDecades.forEach(k=>{
 const pos=symPos(Math.pow(10,k)),neg=-pos;
 majorVals.push(pos,neg);
 labelMap[pos.toFixed(4)]='10{s|'+k+'}';
 labelMap[neg.toFixed(4)]='-10{s|'+k+'}';
 for(let m=2;m<=9;m++){const t=symPos(m*Math.pow(10,k));minorVals.push(t,-t);}
});
majorVals.push(0);labelMap[(0).toFixed(4)]='0';
const inRange=v=>v>cbarRange[0]&&v<cbarRange[1];
const cy=yAxes.length;
const cbAxis={type:'value',gridIndex:cg,min:cbarRange[0],max:cbarRange[1],position:'right',z:10,splitLine:{show:false},axisLine:{show:true,onZero:false,lineStyle:{color:'#555',width:1}}};
yAxes.push(Object.assign({},cbAxis,{
 axisTick:{show:true,inside:true,length:5,customValues:majorVals.filter(inRange),lineStyle:{color:'#222',width:1}},
 axisLabel:{show:true,margin:7,customValues:majorVals.filter(inRange),fontFamily:SERIF,fontSize:14,color:TXT,
  formatter:v=>labelMap[(+v).toFixed(4)]||'',
  rich:{s:{fontFamily:SERIF,fontSize:11,color:TXT,verticalAlign:'top',lineHeight:20}}},
 name:'Velocity Spherical Radius  (cm/s)',nameLocation:'middle',nameRotate:90,nameGap:37,
 nameTextStyle:{fontFamily:SERIF,fontSize:15,color:'#666'}}));
yAxes.push(Object.assign({},cbAxis,{
 axisTick:{show:true,inside:true,length:2.5,customValues:minorVals.filter(inRange),lineStyle:{color:'#222',width:1}},
 axisLabel:{show:false}}));
series.push({type:'custom',name:'colorbar',coordinateSystem:'cartesian2d',xAxisIndex:cx,yAxisIndex:cy,silent:true,z:2,clip:true,
 data:[[0,cbarRange[0]]],
 renderItem:(params,api)=>{
  const a=api.coord([0,cbarRange[1]]),b=api.coord([1,cbarRange[0]]);
  const n=infernoStops.length-1;
  return{type:'rect',silent:true,shape:{x:a[0],y:a[1],width:b[0]-a[0],height:b[1]-a[1]},
   style:{fill:new G.LinearGradient(0,1,0,0,infernoStops.map((c,i)=>({offset:i/n,color:c})))}};
 }});
const chart=echarts.init(document.getElementById('c'),null,{renderer:'canvas'});
chart.setOption({animation:false,backgroundColor:'#fff',tooltip:{show:false},grid:grids,xAxis:xAxes,yAxis:yAxes,series:series});
</script></body></html>
